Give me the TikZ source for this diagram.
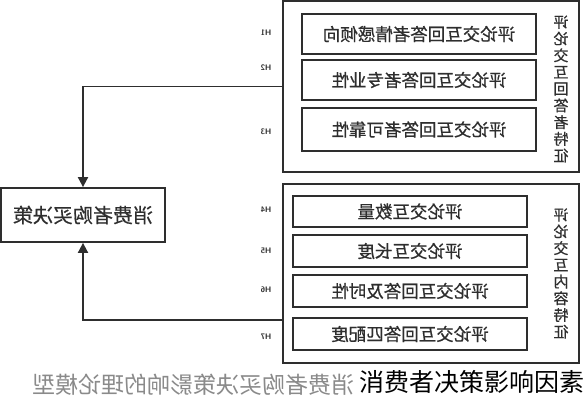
\documentclass[tikz,border=0pt]{standalone}
\usepackage{fontspec}
\usepackage{graphicx}
\newfontfamily\cjk{Noto Sans CJK SC}
\newfontfamily\cjkb[FakeBold=0.6]{Noto Sans CJK SC}
\usetikzlibrary{arrows.meta,calc}
\definecolor{linec}{HTML}{2E2E2E}
\definecolor{capc}{HTML}{8A8A8A}
\newcommand\mirr[1]{\reflectbox{#1}}
\newcommand\vstack[1]{\reflectbox{\parbox{16pt}{\centering\fontsize{15}{16.7}\selectfont #1}}}
\begin{document}
\begin{tikzpicture}[x=1pt,y=-1pt,
  outerbox/.style={draw=linec, line width=1.8pt, minimum width=296pt, inner sep=0pt},
  innerbox/.style={draw=linec, line width=1.5pt, minimum width=234pt, inner sep=0pt,
     text=linec, font=\cjkb\fontsize{17.5}{20}\selectfont},
  declbox/.style={draw=linec, line width=1.8pt, inner sep=0pt, text=linec,
     font=\cjkb\fontsize{20}{22}\selectfont},
  hlab/.style={text=linec, font=\sffamily\bfseries\fontsize{8}{9}\selectfont, inner sep=0pt},
  vlab/.style={text=linec, font=\cjkb, inner sep=0pt},
  arr/.style={draw=linec, line width=1.8pt, -{Triangle[width=10pt,length=10pt]}}]
\fill[white] (0,0) rectangle (587,400);
\useasboundingbox (0,0) rectangle (587,400);

% top group
\node[outerbox, minimum height=171pt] (topouter) at (431,86.5) {};
\node[innerbox, minimum height=40pt] (b1) at (419,34) {\mirr{评论交互回答者情感倾向}};
\node[innerbox, minimum height=40pt] (b2) at (419,80) {\mirr{评论交互回答者专业性}};
\node[innerbox, minimum height=43pt] (b3) at (419,129.5) {\mirr{评论交互回答者可靠性}};
\node[vlab] (vt) at (561,89) {\vstack{评\par 论\par 交\par 互\par 回\par 答\par 者\par 特\par 征}};

% bottom group
\node[outerbox, minimum height=179pt] (botouter) at (431,273.5) {};
\node[innerbox, minimum height=31pt] (b4) at (410,211.5) {\mirr{评论交互数量}};
\node[innerbox, minimum height=32pt] (b5) at (410,251) {\mirr{评论交互长度}};
\node[innerbox, minimum height=32pt] (b6) at (410,291) {\mirr{评论交互回答及时性}};
\node[innerbox, minimum height=32pt] (b7) at (410,334) {\mirr{评论交互回答匹配度}};
\node[vlab] (vb) at (561,273.5) {\vstack{评\par 论\par 交\par 互\par 内\par 容\par 特\par 征}};

% H labels
\node[hlab] (h1) at (266,33) {\mirr{H1}};
\node[hlab] (h2) at (266,68) {\mirr{H2}};
\node[hlab] (h3) at (266,132) {\mirr{H3}};
\node[hlab] (h4) at (266,210) {\mirr{H4}};
\node[hlab] (h5) at (266,251) {\mirr{H5}};
\node[hlab] (h6) at (266,290) {\mirr{H6}};
\node[hlab] (h7) at (266,337) {\mirr{H7}};

% decision box
\node[declbox, minimum width=164pt, minimum height=54pt] (decision) at (83,215) {\mirr{消费者购买决策}};

% connectors
\coordinate (lvl) at (0,320);
\draw[arr] (topouter.west) -| (decision.north);
\draw[arr] (botouter.west |- lvl) -| (decision.south);

% caption (mirrored, grey) and overlay title
\node[text=capc, font=\cjk\fontsize{23}{23}\selectfont, inner sep=0pt] (cap) at (193.5,385) {\mirr{消费者购买决策影响的理论模型}};
\node[text=black, font=\cjk\fontsize{25}{25}\selectfont, inner sep=0pt] (wm) at (472,382) {消费者决策影响因素};
\end{tikzpicture}
\end{document}
